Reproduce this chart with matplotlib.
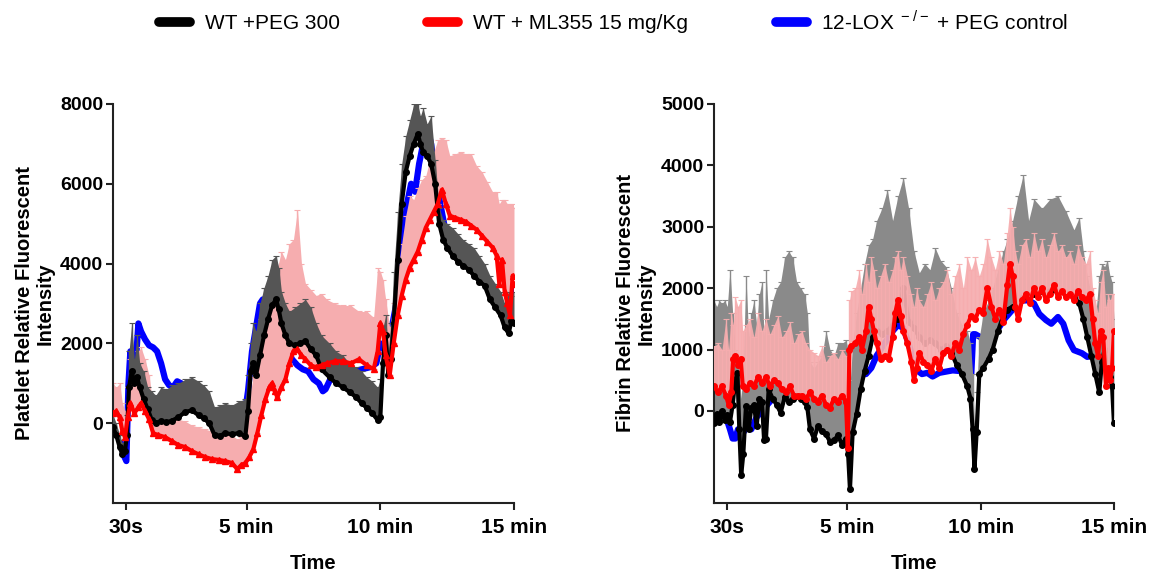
import numpy as np
import matplotlib
matplotlib.use("Agg")
import matplotlib.pyplot as plt
from matplotlib.lines import Line2D

plt.rcParams['font.family'] = ['Liberation Sans', 'DejaVu Sans']
plt.rcParams['mathtext.fontset'] = 'custom'
plt.rcParams['mathtext.rm'] = 'Liberation Sans'

# ---------------- left panel: platelet ----------------
# time in minutes
blk_L_t = [0, 0.12, 0.25, 0.35, 0.45, 0.52, 0.6, 0.7, 0.8, 0.9, 1.0, 1.15, 1.3, 1.45, 1.6, 1.8,
           2.0, 2.2, 2.45, 2.7, 2.95, 3.2, 3.4, 3.6, 3.8, 4.0, 4.2, 4.45, 4.7, 4.95, 5.05, 5.15,
           5.25, 5.35, 5.5, 5.65, 5.8, 5.95, 6.1, 6.2, 6.3, 6.45, 6.6, 6.8, 7.0, 7.2, 7.4, 7.6,
           7.8, 8.1, 8.35, 8.6, 8.85, 9.1, 9.3, 9.5, 9.7, 9.9, 10.0, 10.1, 10.2, 10.3, 10.4, 10.5,
           10.65, 10.8, 10.95, 11.1, 11.25, 11.4, 11.5, 11.6, 11.75, 11.9, 12.05, 12.2, 12.35,
           12.5, 12.7, 12.9, 13.1, 13.3, 13.5, 13.7, 13.9, 14.1, 14.3, 14.5, 14.65, 14.8, 14.9, 15.0]
blk_L_mean = [-100, -300, -600, -780, -700, -300, 900, 1300, 1000, 1150, 900, 600, 350, 80, 0, 50,
              20, 60, 150, 280, 320, 200, 120, 0, -300, -320, -250, -280, -250, -330, 300, 1300,
              1500, 1200, 1700, 2200, 2600, 2950, 3100, 2850, 2500, 2200, 2000, 1950, 2000, 2050, 1850, 1700,
              1350, 1150, 1000, 900, 780, 650, 500, 380, 250, 80, 150, 1500, 2200, 1200, 1600, 2500,
              4100, 5500, 6300, 6700, 7000, 7250, 7000, 6800, 6700, 6500, 6000, 5000, 4600,
              4400, 4200, 4050, 3950, 3850, 3700, 3550, 3450, 3100, 2900, 2700, 2400, 2250, 2550, 2500]
blk_L_hi = [200, 0, -300, -500, -400, 200, 1800, 2500, 1600, 2200, 1500, 1300, 900, 800, 700, 900,
            850, 950, 1000, 1100, 1150, 1050, 950, 800, 400, 450, 500, 450, 550, 600, 1200, 2000,
            2500, 2300, 3000, 3400, 3700, 4100, 4200, 3900, 3300, 3000, 2800, 2900, 3000, 3100, 2900, 2500,
            2200, 2000, 1800, 1700, 1500, 1400, 1300, 1150, 1050, 900, 1100, 2400, 2700, 1800, 2500, 3800,
            5300, 6500, 7200, 7600, 8000, 8000, 7700, 7900, 7500, 7700, 6600, 5400, 5100,
            5000, 4900, 4750, 4600, 4500, 4400, 4200, 4000, 3700, 3500, 3300, 3000, 3300, 3200, 3300]

red_L_t = [0, 0.12, 0.25, 0.35, 0.45, 0.55, 0.65, 0.8, 0.95, 1.05, 1.2, 1.35, 1.5, 1.7, 1.95, 2.2,
           2.45, 2.7, 2.95, 3.2, 3.45, 3.7, 3.95, 4.2, 4.45, 4.65, 4.8, 4.95, 5.1, 5.25, 5.4, 5.55,
           5.7, 5.85, 5.95, 6.05, 6.15, 6.3, 6.45, 6.6, 6.75, 6.9, 7.05, 7.2, 7.4, 7.6, 7.8, 8.0,
           8.3, 8.6, 8.9, 9.2, 9.5, 9.75, 9.9, 10.0, 10.1, 10.2, 10.35, 10.5, 10.65, 10.8, 10.95,
           11.1, 11.25, 11.4, 11.55, 11.7, 11.85, 12.0, 12.15, 12.3, 12.45, 12.6, 12.8, 13.0, 13.2,
           13.4, 13.6, 13.8, 14.0, 14.2, 14.35, 14.45, 14.55, 14.65, 14.75, 14.85, 14.95, 15.0]
red_L_mean = [250, 300, 150, -200, -350, 150, 500, 250, 400, 500, 300, 100, -250, -300, -350, -450,
              -550, -600, -700, -780, -850, -900, -920, -950, -1000, -1150, -1050, -1000, -850, -650, -250, 200,
              600, 900, 1000, 800, 650, 900, 1100, 1500, 1800, 1850, 1700, 1600, 1450, 1400, 1450, 1500,
              1550, 1550, 1500, 1600, 1450, 1350, 1800, 2500, 2300, 1700, 1200, 2000, 2700, 3200, 3600,
              3900, 4100, 4300, 4600, 4900, 5100, 5300, 5500, 5850, 5500, 5200, 5150, 5100, 5050,
              4950, 4850, 4700, 4550, 4400, 4200, 3500, 4100, 3300, 3000, 2700, 3700, 3500]
red_L_hi = [1000, 900, 1000, 500, 300, 900, 1600, 1000, 1800, 1900, 1600, 1200, 400, 300, 250, 150,
            100, 50, -50, -100, -150, -200, -250, -250, -300, -400, -350, -300, 650, 1150, 1950, 2600,
            3000, 3300, 3500, 3700, 3900, 4300, 4100, 4500, 4600, 5350, 4000, 3500, 3350, 3200, 3250, 3100,
            3000, 2950, 2950, 2800, 2800, 2650, 3900, 3800, 3600, 3100, 2400, 3000, 3800, 4500, 5200,
            5700, 5600, 5900, 6100, 6200, 6600, 6800, 7100, 7150, 7100, 6700, 6750, 6800, 6750,
            6750, 6450, 6300, 6050, 5800, 5800, 5500, 5600, 5600, 5500, 5500, 5500, 5400]

blu_L_t = [0.3, 0.4, 0.5, 0.58, 0.65, 0.75, 0.85, 0.95, 1.05, 1.2, 1.35, 1.5, 1.65, 1.8, 1.95, 2.1,
           2.25, 2.4, 2.55, 2.7, 3.0, 3.5, 4.0, 4.5, 4.9, 5.05, 5.2, 5.35, 5.5, 5.6, 5.7, 5.8,
           6.0, 6.2, 6.35, 6.5, 6.7, 6.9, 7.1, 7.3, 7.5, 7.7, 7.85, 7.95, 8.2, 8.6, 9.0, 9.3,
           9.6, 9.85, 10.0, 10.2, 10.4, 10.6, 10.8, 11.0, 11.15, 11.3, 11.45, 11.6, 11.75, 11.9,
           12.1, 12.5, 13.0, 13.5, 14.0, 14.5, 14.85, 14.95, 15.0]
blu_L_mean = [-500, -800, -950, 1000, 1800, 1300, 1500, 2500, 2300, 2100, 1950, 1900, 1800, 1500, 1100, 950,
              900, 1050, 1000, 850, 600, 400, 100, 0, 100, 800, 1800, 2400, 3000, 3100, 2800, 2400,
              3000, 2900, 2300, 1900, 1600, 1450, 1350, 1300, 1100, 1000, 800, 850, 1200, 1100, 1300, 1350,
              1400, 1500, 2000, 1800, 2300, 3000, 4300, 5500, 6000, 5800, 6500, 7000, 7400, 7000,
              6000, 4600, 4300, 4000, 3500, 2900, 2600, 4200, 4200]

# ---------------- right panel: fibrin ----------------
blk_R_t = [0, 0.1, 0.2, 0.3, 0.4, 0.5, 0.6, 0.7, 0.8, 0.88, 0.95, 1.02, 1.1, 1.2, 1.3, 1.4, 1.5,
           1.6, 1.7, 1.8, 1.88, 1.95, 2.05, 2.2, 2.35, 2.5, 2.65, 2.8, 2.95, 3.1, 3.25, 3.4, 3.5,
           3.6, 3.75, 3.9, 4.05, 4.2, 4.35, 4.5, 4.65, 4.8, 4.95, 5.03, 5.1, 5.2, 5.35, 5.5, 5.65,
           5.8, 5.95, 6.1, 6.3, 6.5, 6.7, 6.9, 7.1, 7.3, 7.5, 7.7, 7.9, 8.1, 8.3, 8.5, 8.7, 8.9,
           9.1, 9.3, 9.5, 9.62, 9.7, 9.77, 9.85, 9.95, 10.1, 10.3, 10.45, 10.65, 10.85, 11.0, 11.2,
           11.4, 11.6, 11.8, 12.0, 12.3, 12.6, 12.9, 13.2, 13.5, 13.7, 13.85, 14.0, 14.15, 14.3,
           14.45, 14.55, 14.65, 14.75, 14.85, 14.93, 15.0]
blk_R_mean = [-200, -50, -180, 0, -150, -60, -180, 100, 500, 620, -300, -1050, -700, 80, -300, 50, 100,
              -250, 200, 150, -480, -450, 350, 200, 100, -30, 220, 150, 200, 250, 200, 150, 60,
              -300, -450, -250, -330, -380, -500, -480, -400, -550, -450, -700, -1280, -350, -50, 350, 650,
              900, 1200, 1300, 1250, 1300, 1400, 1500, 2000, 1450, 1350, 1200, 1100, 1150, 1100, 1000, 1050, 950,
              750, 600, 400, 200, -300, -950, -350, 600, 700, 850, 1000, 1300, 1550, 1650, 1700,
              1750, 1850, 1850, 1900, 1950, 1950, 1950, 1900, 1850, 1750, 1500, 1200, 900, 600,
              300, 800, 1000, 700, 550, 400, -200]
blk_R_hi = [1800, 1700, 1800, 1750, 1800, 1700, 2300, 1600, 1000, 900, 600, 200, 800, 2200, 1200, 1600, 1800,
            1400, 1900, 2100, 1200, 2300, 1500, 1800, 2000, 2100, 2500, 2600, 2500, 2100, 2000, 1900, 1600,
            800, 700, 800, 900, 1300, 1000, 900, 1100, 1100, 1150, 1000, 400, 1100, 1600, 2000, 2400,
            2700, 2800, 3100, 3300, 3600, 3100, 3500, 3800, 3300, 2600, 2250, 2400, 2300, 2650, 2450, 2350, 2000,
            1600, 1400, 1300, 1100, 600, -300, 300, 1200, 1600, 1800, 2000, 2300, 2600, 2800, 3100,
            3500, 3850, 3100, 3450, 3300, 3450, 3500, 3250, 2950, 3150, 2600, 2200, 1900, 1500,
            2200, 2400, 2350, 2450, 2200, 2100, 1500]

red_R_t = [0, 0.15, 0.3, 0.45, 0.55, 0.65, 0.72, 0.8, 0.9, 1.0, 1.08, 1.2, 1.35, 1.5, 1.65, 1.8,
           1.95, 2.1, 2.25, 2.4, 2.55, 2.7, 2.85, 3.0, 3.15, 3.3, 3.45, 3.6, 3.75, 3.9, 4.05, 4.2,
           4.35, 4.5, 4.65, 4.8, 4.95, 5.02, 5.08, 5.15, 5.3, 5.45, 5.55, 5.7, 5.8, 5.9, 6.0, 6.1,
           6.25, 6.4, 6.55, 6.7, 6.8, 6.9, 7.0, 7.1, 7.25, 7.4, 7.5, 7.6, 7.7, 7.85, 8.0, 8.15,
           8.3, 8.45, 8.6, 8.75, 8.9, 9.05, 9.2, 9.35, 9.5, 9.65, 9.8, 9.95, 10.1, 10.25, 10.4,
           10.55, 10.7, 10.85, 11.0, 11.1, 11.2, 11.3, 11.4, 11.55, 11.7, 11.85, 12.0, 12.15, 12.3,
           12.45, 12.6, 12.75, 12.9, 13.05, 13.2, 13.35, 13.5, 13.65, 13.8, 13.95, 14.1, 14.2, 14.3,
           14.4, 14.5, 14.6, 14.7, 14.78, 14.86, 14.93, 15.0]
red_R_mean = [400, 300, 400, 250, 100, 300, 850, 900, 750, 850, 400, 350, 450, 400, 550, 450,
              550, 400, 500, 450, 350, 300, 400, 250, 250, 250, 200, 300, 200, 150, 250, 100,
              50, 200, 150, 250, 150, -600, 1000, 1050, 1100, 1200, 1000, 1300, 1700, 1500, 1300, 1100,
              850, 900, 850, 1200, 1600, 1800, 1550, 1300, 1100, 800, 500, 700, 950, 800, 750, 650,
              850, 700, 950, 1000, 900, 1100, 1000, 1250, 1400, 1550, 1500, 1650, 1600, 2000, 1700,
              1500, 1650, 1450, 2050, 2400, 2200, 1700, 1500, 1800, 1900, 1750, 2000, 1850, 2000,
              1800, 1900, 2050, 1850, 1950, 1850, 1900, 1800, 1950, 1850, 1800, 1900, 1500, 1100,
              900, 1300, 1200, 400, 700, 500, 700, 1300]
red_R_hi = [1050, 1100, 1000, 1500, 1000, 1600, 1400, 1850, 1700, 1800, 1300, 1400, 1500, 1200, 1600, 1300,
            1500, 1250, 1400, 1550, 1200, 1300, 1450, 1100, 1250, 1300, 1100, 1000, 950, 900, 1050, 800,
            900, 950, 850, 1000, 900, 500, 1800, 1950, 2000, 2300, 1900, 2400, 2100, 2500, 2300, 2000,
            2200, 2400, 2100, 2300, 2500, 2600, 2300, 2500, 2200, 1900, 1700, 2000, 1800, 1700, 1900, 2100,
            1800, 2000, 2100, 2300, 1900, 2200, 2400, 2000, 2500, 2300, 2500, 2200, 2400, 2800, 2500,
            2300, 2600, 2400, 2900, 3300, 3000, 2600, 2400, 2700, 2800, 2500, 2900, 2600, 2800,
            2500, 2700, 2900, 2600, 2700, 2500, 2600, 2400, 2700, 2500, 2400, 2600, 2000, 1800,
            1600, 2100, 2300, 1700, 1900, 1800, 1900, 1900]

blu_R_t = [0, 0.15, 0.3, 0.45, 0.6, 0.7, 0.8, 0.9, 1.0, 1.1, 1.25, 1.4, 1.6, 2.0, 2.4, 2.6, 2.8,
           3.2, 3.6, 4.0, 4.5, 4.9, 5.1, 5.3, 5.5, 5.7, 5.9, 6.1, 6.4, 6.7, 6.9, 7.1, 7.3, 7.5,
           7.65, 7.8, 8.0, 8.2, 8.45, 8.7, 8.95, 9.2, 9.45, 9.65, 9.72, 9.8, 10.0, 10.3, 10.6,
           10.9, 11.2, 11.5, 11.8, 12.0, 12.2, 12.45, 12.65, 12.9, 13.1, 13.3, 13.5, 13.8, 14.0,
           14.2, 14.5, 14.8, 15.0]
blu_R_mean = [600, 300, 0, -100, -300, -450, -450, -300, -400, -350, -250, -300, -100, 100, 300, 650, 350,
              250, 200, 100, 100, 100, 0, 400, 600, 600, 700, 900, 1100, 1300, 1400, 1350, 1100, 800,
              650, 600, 620, 560, 620, 640, 660, 650, 620, 600, 1250, 1250, 1200, 1200, 1300,
              1500, 1650, 1800, 1800, 1750, 1580, 1480, 1420, 1530, 1420, 1150, 990, 940, 880,
              900, 900, 850, 850]

legend_labels = ['WT +PEG 300', 'WT + ML355 15 mg/Kg', '12-LOX$^{\\ -/-}$ + PEG control']
xtick_pos = [0.5, 5, 10, 15]
xtick_lab = ['30s', '5 min', '10 min', '15 min']

C_BLACK = '#000000'
C_RED = '#ff0000'
C_BLUE = '#0000ff'
C_PINK = '#f6adaf'


def draw_errors(ax, t, mean, hi, color, z, alpha=1.0):
    t = np.array(t, dtype=float)
    mean = np.array(mean, dtype=float)
    hi = np.array(hi, dtype=float)
    up = np.clip(hi - mean, 0, None)
    ax.fill_between(t, mean, mean + up, color=color, lw=0, alpha=alpha, zorder=z)
    ax.errorbar(t, mean, yerr=[np.zeros_like(up), up], fmt='none', ecolor=color,
                elinewidth=1.0, capsize=2, capthick=0.8, alpha=alpha, zorder=z)


def style_axis(ax, ylim, yticks, ylabel):
    ax.set_xlim(0, 15)
    ax.set_ylim(*ylim)
    ax.set_yticks(yticks)
    ax.set_xticks(xtick_pos)
    ax.set_xticklabels(xtick_lab)
    for s in ['top', 'right']:
        ax.spines[s].set_visible(False)
    for s in ['left', 'bottom']:
        ax.spines[s].set_linewidth(1.5)
        ax.spines[s].set_color('#222222')
    ax.tick_params(axis='both', direction='out', length=5, width=1.5, color='#222222')
    ax.tick_params(axis='x', pad=6, labelsize=15)
    ax.tick_params(axis='y', pad=2, labelsize=14)
    for lab in ax.get_xticklabels() + ax.get_yticklabels():
        lab.set_fontweight('bold')
    ax.set_ylabel(ylabel, fontsize=14.5, fontweight='bold', linespacing=1.1)
    ax.yaxis.set_label_coords(-0.145, 0.5)
    ax.set_xlabel('Time', fontsize=14.5, fontweight='bold', labelpad=12)


fig = plt.figure(figsize=(11.6, 5.73), dpi=100)
axL = fig.add_axes([0.0974, 0.1222, 0.3457, 0.6963])
axR = fig.add_axes([0.6155, 0.1222, 0.3448, 0.6963])

# left: blue under everything, pink under gray, black line, red line on top
axL.plot(blu_L_t, blu_L_mean, color=C_BLUE, lw=4.5, solid_capstyle='round', zorder=1)
draw_errors(axL, red_L_t, red_L_mean, red_L_hi, C_PINK, 2)
draw_errors(axL, blk_L_t, blk_L_mean, blk_L_hi, '#555555', 3)
axL.plot(blk_L_t, blk_L_mean, color=C_BLACK, lw=3, marker='o', ms=4, zorder=4)
axL.plot(red_L_t, red_L_mean, color=C_RED, lw=3, marker='^', ms=5, zorder=5)
style_axis(axL, (-2000, 8000), [0, 2000, 4000, 6000, 8000],
           'Platelet Relative Fluorescent\nIntensity')

# right: pink is drawn over the gray and the black line
axR.plot(blu_R_t, blu_R_mean, color=C_BLUE, lw=4.5, solid_capstyle='round', zorder=1)
draw_errors(axR, blk_R_t, blk_R_mean, blk_R_hi, '#8a8a8a', 2)
axR.plot(blk_R_t, blk_R_mean, color=C_BLACK, lw=3, marker='o', ms=4, zorder=3)
draw_errors(axR, red_R_t, red_R_mean, red_R_hi, C_PINK, 4, alpha=0.92)
axR.plot(red_R_t, red_R_mean, color=C_RED, lw=3, marker='o', ms=4, zorder=5)
style_axis(axR, (-1500, 5000), [0, 1000, 2000, 3000, 4000, 5000],
           'Fibrin Relative Fluorescent\nIntensity')

handles = [Line2D([0], [0], color=c, lw=7, solid_capstyle='round') for c in (C_BLACK, C_RED, C_BLUE)]
fig.legend(handles, legend_labels, loc='center', bbox_to_anchor=(0.529, 0.963), ncol=3,
           frameon=False, fontsize=15, handlelength=1.5, handletextpad=0.7, columnspacing=4.2)

fig.savefig('out.png', dpi=100)
